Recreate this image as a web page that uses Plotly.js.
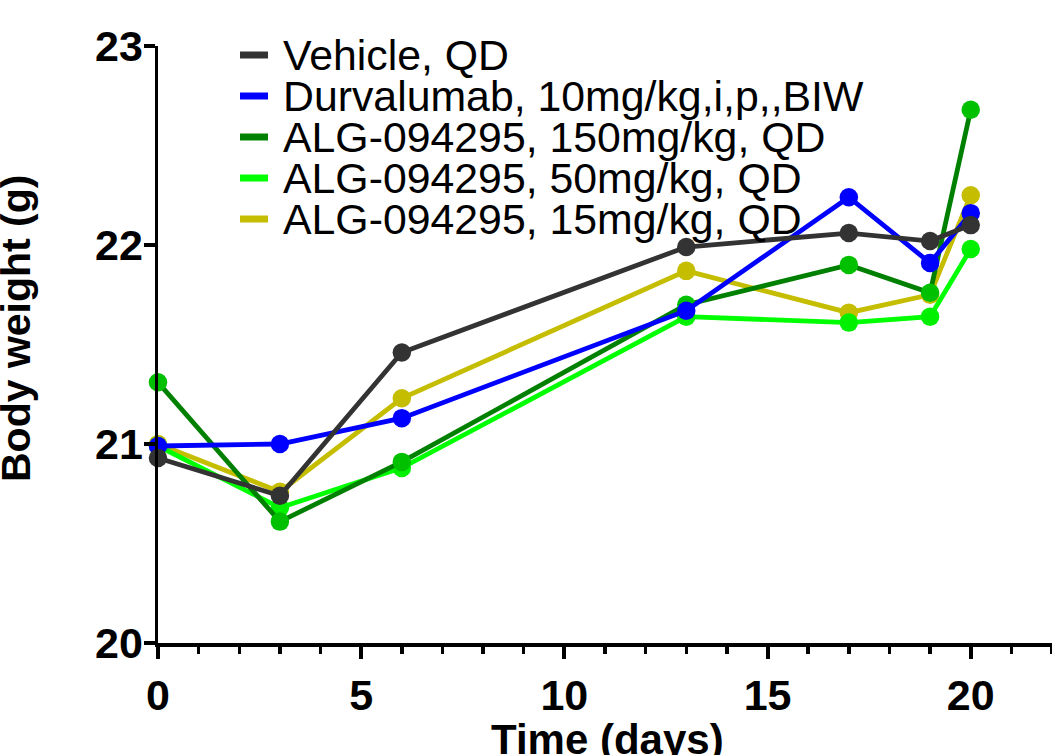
<!DOCTYPE html>
<html>
<head>
<meta charset="utf-8">
<script src="https://cdn.plot.ly/plotly-3.0.1.min.js"></script>
<style>html,body{margin:0;padding:0;background:#fff;}#chart{width:1052px;height:755px;}</style>
</head>
<body>
<div id="chart"></div>
<script>
// Data
const days = [0, 3, 6, 13, 17, 19, 20];
const seriesNames = [
  "Vehicle, QD",
  "Durvalumab, 10mg/kg,i,p,,BIW",
  "ALG-094295, 150mg/kg, QD",
  "ALG-094295, 50mg/kg, QD",
  "ALG-094295, 15mg/kg, QD"
];
const vehicle    = [20.93, 20.74, 21.46, 21.99, 22.06, 22.02, 22.10];
const durvalumab = [20.99, 21.00, 21.13, 21.67, 22.24, 21.91, 22.16];
const alg150     = [21.31, 20.61, 20.91, 21.70, 21.90, 21.76, 22.68];
const alg50      = [20.99, 20.68, 20.88, 21.64, 21.61, 21.64, 21.98];
const alg15      = [21.00, 20.76, 21.23, 21.87, 21.66, 21.75, 22.25];
const xTicks = [0, 5, 10, 15, 20];
const yTicks = [20, 21, 22, 23];
const xTitle = "Time (days)";
const yTitle = "Body weight (g)";

const lineColors   = ["#333333", "#0000FF", "#008000", "#00FF00", "#C5BD00"];
const markerColors = ["#333333", "#0000FF", "#00C000", "#00F000", "#C5BD00"];
const values = [vehicle, durvalumab, alg150, alg50, alg15];

// draw in reverse order so Vehicle is on top
const traces = [];
for (let i = values.length - 1; i >= 0; i--) {
  traces.push({
    x: days, y: values[i], name: seriesNames[i], type: "scatter", mode: "lines+markers",
    line: {color: lineColors[i], width: 4.8},
    marker: {color: markerColors[i], size: 18.5},
    showlegend: false, cliponaxis: false
  });
}

// legend built as annotations + shapes
const L = 158, T = 46, W = 894, H = 597; // plot area in px
const px = v => (v - L) / W;
const py = v => (T + H - v) / H;
const legTop = 55, legGap = 41;
const annotations = [], shapes = [];
seriesNames.forEach((n, i) => {
  const yp = py(legTop + i * legGap);
  annotations.push({
    xref: "paper", yref: "paper", x: px(281), y: yp,
    xanchor: "left", yanchor: "middle", showarrow: false, text: n,
    font: {family: "Liberation Sans, Arial, sans-serif", size: 42.8, color: "#000"}
  });
  shapes.push({
    type: "line", xref: "paper", yref: "paper",
    x0: px(240), x1: px(268), y0: yp, y1: yp,
    line: {color: lineColors[i], width: 7}
  });
});

const tickFont = {family: "Liberation Sans, Arial, sans-serif", size: 43, color: "#000", weight: "bold"};
const titleFont = {family: "Liberation Sans, Arial, sans-serif", size: 41, color: "#000", weight: "bold"};

// axis titles as annotations so they can sit exactly where the reference has them
annotations.push({
  xref: "paper", yref: "paper", x: px(607), y: py(739),
  xanchor: "center", yanchor: "middle", showarrow: false, text: xTitle,
  font: {family: "Liberation Sans, Arial, sans-serif", size: 42, color: "#000", weight: "bold"}
});
annotations.push({
  xref: "paper", yref: "paper", x: px(16), y: py(329),
  xanchor: "center", yanchor: "middle", showarrow: false, text: yTitle, textangle: -90,
  font: titleFont
});

const layout = {
  width: 1052, height: 755,
  margin: {l: L, r: 0, t: T, b: 755 - T - H},
  paper_bgcolor: "#fff", plot_bgcolor: "#fff",
  showlegend: false,
  xaxis: {
    range: [0, 22], tickvals: xTicks, ticktext: xTicks.map(String),
    showgrid: false, zeroline: false, showline: true, linecolor: "#000", linewidth: 3.5,
    ticks: "outside", ticklen: 12, tickwidth: 4, tickcolor: "#000",
    minor: {dtick: 1, tick0: 0, ticks: "outside", ticklen: 7, tickwidth: 3.5, tickcolor: "#000", showgrid: false},
    tickfont: tickFont,
    automargin: false
  },
  yaxis: {
    range: [20, 23], tickvals: yTicks, ticktext: yTicks.map(String),
    showgrid: false, zeroline: false, showline: true, linecolor: "#000", linewidth: 3.5,
    ticks: "outside", ticklen: 11, tickwidth: 4, tickcolor: "#000",
    ticklabelstandoff: -8,
    tickfont: tickFont,
    automargin: false
  },
  annotations: annotations,
  shapes: shapes
};

Plotly.newPlot("chart", traces, layout, {displayModeBar: false, staticPlot: true});
</script>
</body>
</html>
